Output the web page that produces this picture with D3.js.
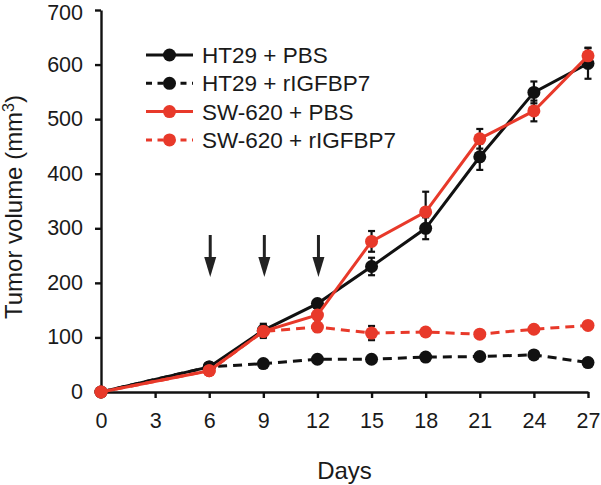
<!DOCTYPE html>
<html><head><meta charset="utf-8">
<script src="https://cdn.jsdelivr.net/npm/d3@7"></script>
<style>body{margin:0;background:#fff}svg{display:block}text{font-family:"Liberation Sans",Arial,sans-serif;fill:#1a1a1a}</style>
</head><body><svg id="c" width="601" height="485"></svg>
<script>
const xTicks = [0, 3, 6, 9, 12, 15, 18, 21, 24, 27];
const yTicks = [0, 100, 200, 300, 400, 500, 600, 700];
const dataDays = [0, 6, 9, 12, 15, 18, 21, 24, 27];
const ht29Pbs = [0, 46, 113, 162, 230, 300, 431, 549, 602];
const ht29PbsErr = [0, 4, 12, 6, 16, 20, 24, 20, 28];
const ht29Rig = [0, 46, 52, 60, 60, 64, 65, 68, 54];
const ht29RigErr = [0, 4, 5, 5, 5, 5, 5, 5, 5];
const swPbs = [0, 39, 111, 141, 276, 330, 464, 515, 616];
const swPbsErr = [0, 4, 12, 8, 19, 37, 18, 19, 15];
const swRig = [0, 39, 111, 119, 108, 110, 106, 115, 122];
const swRigErr = [0, 4, 8, 8, 13, 6, 5, 5, 5];
const arrowDays = [6, 9, 12];
const seriesNames = ["HT29 + PBS", "HT29 + rIGFBP7", "SW-620 + PBS", "SW-620 + rIGFBP7"];

const BLACK = "#111", RED = "#e8392a";
const series = [
  {name: seriesNames[0], v: ht29Pbs, e: ht29PbsErr, color: BLACK, dash: null},
  {name: seriesNames[1], v: ht29Rig, e: ht29RigErr, color: BLACK, dash: "9,6"},
  {name: seriesNames[2], v: swPbs, e: swPbsErr, color: RED, dash: null},
  {name: seriesNames[3], v: swRig, e: swRigErr, color: RED, dash: "9,6"}
];

const svg = d3.select("#c");
const x = d3.scaleLinear().domain([0, 27]).range([101, 588]);
const y = d3.scaleLinear().domain([0, 700]).range([392, 10]);

const xAxis = svg.append("g").attr("transform", `translate(0,${y(0)})`)
  .call(d3.axisBottom(x).tickValues(xTicks).tickSize(6).tickSizeOuter(0).tickPadding(15));
const yAxis = svg.append("g").attr("transform", `translate(${x(0)},0)`)
  .call(d3.axisLeft(y).tickValues(yTicks).tickSize(6).tickSizeOuter(0).tickPadding(12));
[xAxis, yAxis].forEach(a => {
  a.select(".domain").attr("stroke", "#111").attr("stroke-width", 2.4);
  a.selectAll(".tick line").attr("stroke", "#111").attr("stroke-width", 2.4);
  a.selectAll(".tick text").style("font-size", "21.5px").attr("fill", "#1a1a1a")
    .style("font-family", '"Liberation Sans",Arial,sans-serif');
});
yAxis.selectAll(".tick text").attr("dy", d => d === 700 ? "0.46em" : "0.3em");

svg.append("text").attr("x", x(13.5)).attr("y", 479).attr("text-anchor", "middle")
  .style("font-size", "24px").text("Days");
const yl = svg.append("text").attr("transform", `translate(22,207) rotate(-90)`)
  .attr("text-anchor", "middle").style("font-size", "24px");
yl.append("tspan").text("Tumor volume (mm");
yl.append("tspan").attr("dy", "-8").style("font-size", "16px").text("3");
yl.append("tspan").attr("dy", "8").text(")");

arrowDays.forEach(d => {
  const cx = x(d) + 1;
  svg.append("line").attr("x1", cx).attr("x2", cx).attr("y1", 235).attr("y2", 262)
    .attr("stroke", "#222").attr("stroke-width", 3);
  svg.append("path").attr("d", `M${cx-6},257 L${cx+6},257 L${cx},277 Z`).attr("fill", "#222");
});

const line = d3.line().x((d, i) => x(dataDays[i])).y(d => y(d));
series.forEach(s => {
  const g = svg.append("g");
  s.v.forEach((v, i) => {
    if (s.e[i] <= 0) return;
    const cx = x(dataDays[i]);
    g.append("line").attr("x1", cx).attr("x2", cx).attr("y1", y(v - s.e[i])).attr("y2", y(v + s.e[i]))
      .attr("stroke", "#111").attr("stroke-width", 2.2);
    [v - s.e[i], v + s.e[i]].forEach(t => g.append("line").attr("x1", cx - 3.5).attr("x2", cx + 3.5)
      .attr("y1", y(t)).attr("y2", y(t)).attr("stroke", "#111").attr("stroke-width", 2.2));
  });
  g.append("path").datum(s.v).attr("d", line).attr("fill", "none").attr("stroke", s.color)
    .attr("stroke-width", 3).attr("stroke-dasharray", s.dash);
  g.selectAll("circle").data(s.v).join("circle").attr("cx", (d, i) => x(dataDays[i])).attr("cy", d => y(d))
    .attr("r", 6.5).attr("fill", s.color);
});

const lg = svg.append("g");
series.forEach((s, i) => {
  const ly = 55 + i * 28.3;
  lg.append("line").attr("x1", 146).attr("x2", 193).attr("y1", ly).attr("y2", ly)
    .attr("stroke", s.color).attr("stroke-width", 3).attr("stroke-dasharray", s.dash ? "6,5.5" : null);
  lg.append("circle").attr("cx", 169.5).attr("cy", ly).attr("r", 6.5).attr("fill", s.color);
  lg.append("text").attr("x", 202).attr("y", ly).attr("dy", "0.36em").style("font-size", "22.5px").text(s.name);
});
</script></body></html>
